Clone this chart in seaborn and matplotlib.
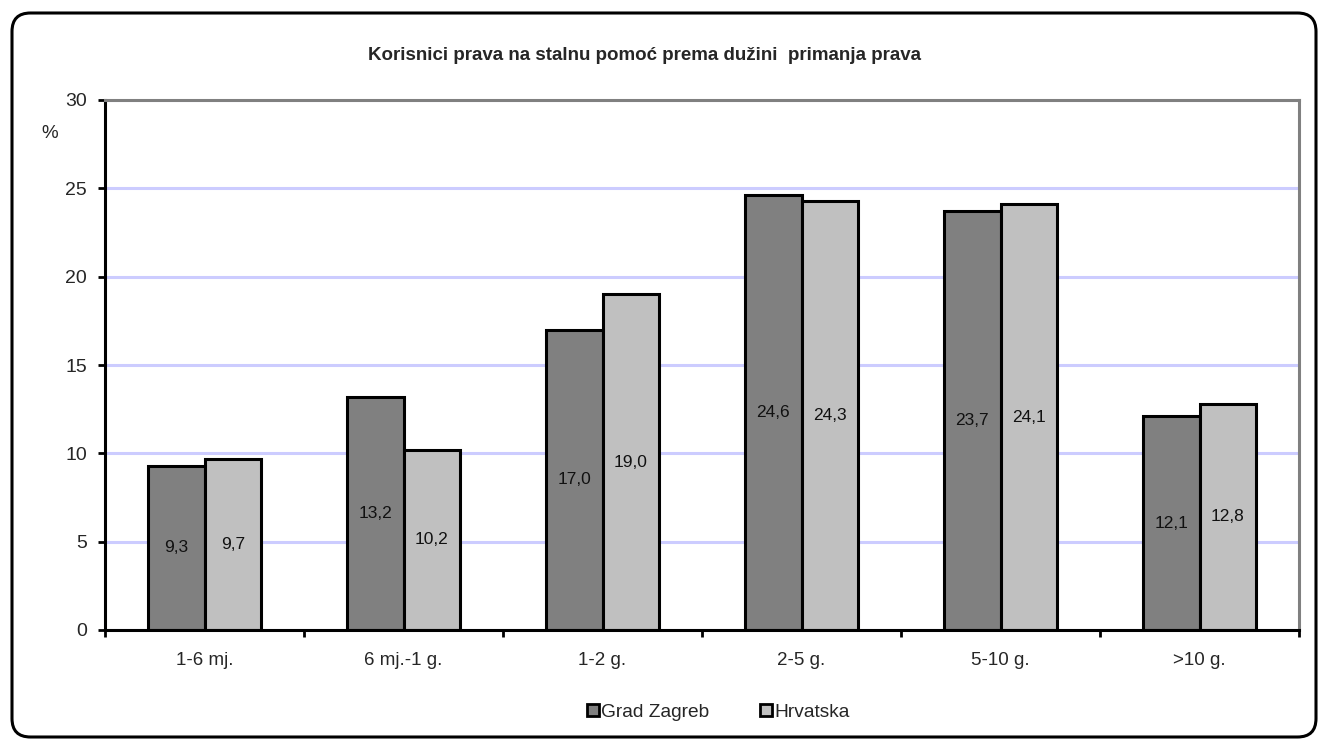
import pandas as pd
import matplotlib
matplotlib.use("Agg")
import matplotlib.pyplot as plt
from matplotlib.patches import FancyBboxPatch
from matplotlib.lines import Line2D
import seaborn as sns

# ── Data ──────────────────────────────────────────────────────────────────────

CATEGORIES = ["1-6 mj.", "6 mj.-1 g.", "1-2 g.", "2-5 g.", "5-10 g.", ">10 g."]
ZAGREB     = [9.3, 13.2, 17.0, 24.6, 23.7, 12.1]
HRVATSKA   = [9.7, 10.2, 19.0, 24.3, 24.1, 12.8]
SERIES     = ["Grad Zagreb", "Hrvatska"]
COLORS     = ["#808080", "#C0C0C0"]

TITLE = "Korisnici prava na stalnu pomoć prema dužini  primanja prava"

sns.set_theme(style="white")
plt.rcParams["font.family"] = ["Liberation Sans", "DejaVu Sans"]

df = pd.DataFrame({
    "kategorija": CATEGORIES * 2,
    "vrijednost": ZAGREB + HRVATSKA,
    "serija": [SERIES[0]] * len(CATEGORIES) + [SERIES[1]] * len(CATEGORIES),
})

fig = plt.figure(figsize=(13.19, 7.4), dpi=100)
ax = fig.add_axes([105 / 1319, 1 - 630 / 740, (1299 - 105) / 1319, (630 - 100) / 740])

sns.barplot(data=df, x="kategorija", y="vrijednost", hue="serija",
            palette=COLORS, edgecolor="black", linewidth=2.2,
            width=0.57, saturation=1, ax=ax, legend=False)

# data labels in the middle of each bar
for cont in ax.containers:
    ax.bar_label(cont, labels=[f"{b.get_height():.1f}".replace(".", ",") for b in cont],
                 label_type="center", fontsize=12.5, color="#111111")

# ── Axes styling ──────────────────────────────────────────────────────────────

ax.set_xlim(-0.5, len(CATEGORIES) - 0.5)
ax.set_ylim(0, 30)
ax.set_yticks(range(0, 31, 5))
ax.yaxis.grid(True, color="#CCCCFF", linewidth=2.2)
ax.set_axisbelow(True)
ax.set_xlabel("")
ax.set_ylabel("")

for side in ["top", "right"]:
    ax.spines[side].set_color("#808080")
    ax.spines[side].set_linewidth(2.2)
for side in ["left", "bottom"]:
    ax.spines[side].set_color("black")
    ax.spines[side].set_linewidth(2.2)

ax.tick_params(axis="y", which="major", left=True, length=5, width=2,
               direction="out", pad=8, labelsize=14, color="black")
ax.set_xticks([i - 0.5 for i in range(len(CATEGORIES) + 1)], minor=True)
ax.tick_params(axis="x", which="minor", bottom=True, length=5, width=2,
               direction="out", color="black")
ax.tick_params(axis="x", which="major", bottom=False, length=0, pad=16, labelsize=13.5)

# ── Texts ─────────────────────────────────────────────────────────────────────

fig.text(645 / 1319, 1 - 55 / 740, TITLE, ha="center", va="center",
         fontsize=13.5, fontweight="bold")
fig.text(50 / 1319, 1 - 133 / 740, "%", ha="center", va="center", fontsize=13.5)

handles = [Line2D([0], [0], marker="s", linestyle="none", markersize=9,
                  markerfacecolor=c, markeredgecolor="black", markeredgewidth=2)
           for c in COLORS]
fig.legend(handles, SERIES, loc="center", bbox_to_anchor=(718 / 1319, 1 - 712 / 740),
           ncol=2, frameon=False, fontsize=13.8, handlelength=0.7, handletextpad=0.1,
           columnspacing=2.6)

# rounded chart frame
frame = FancyBboxPatch((12 / 1319, 1 - 737 / 740), (1316 - 12) / 1319, (737 - 13) / 740,
                       boxstyle="round,pad=0,rounding_size=0.014",
                       transform=fig.transFigure, facecolor="none",
                       edgecolor="black", linewidth=2.2, mutation_aspect=1319 / 740)
fig.patches.append(frame)

fig.savefig("out.png", dpi=100)
